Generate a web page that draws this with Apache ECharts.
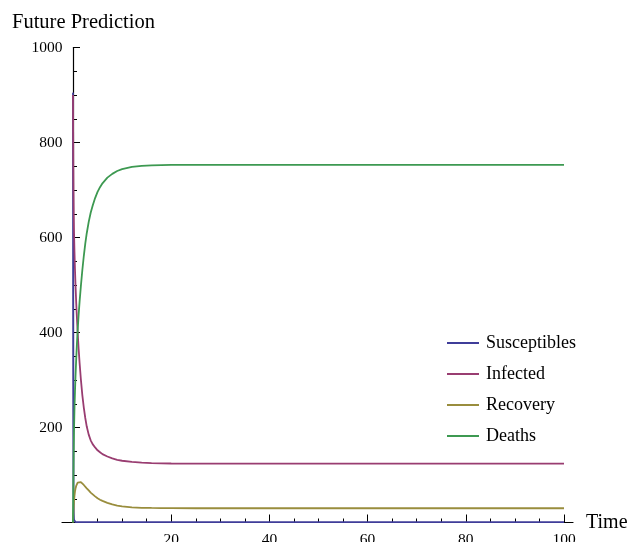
<!DOCTYPE html>
<html>
<head>
<meta charset="utf-8">
<script src="https://cdn.jsdelivr.net/npm/echarts@6/dist/echarts.min.js"></script>
<style>
html,body{margin:0;padding:0;background:#fff;}
#c{width:632px;height:542px;}
</style>
</head>
<body>
<div id="c"></div>
<script>
var seriesNames = ['Susceptibles', 'Infected', 'Recovery', 'Deaths'];
var times = [0, 0.03, 0.06, 0.1, 0.15, 0.2, 0.3, 0.4, 0.5, 0.65, 0.8, 0.95, 1.15, 1.35, 1.6, 1.9, 2.2, 2.5, 2.8, 3.2, 3.6, 4.0, 4.5, 5.0, 5.5, 6, 7, 8, 9, 10, 12, 14, 16, 18, 20, 25, 30, 40, 50, 60, 70, 80, 90, 100];
var susceptibles = [905, 450, 200, 70, 20, 6, 2, 1, 1, 1, 1, 1, 1, 1, 1, 1, 1, 1, 1, 1, 1, 1, 1, 1, 1, 1, 1, 1, 1, 1, 1, 1, 1, 1, 1, 1, 1, 1, 1, 1, 1, 1, 1, 1];
var infected = [900, 820, 760, 700, 650, 615, 570, 533, 503, 463, 430, 400, 365, 335, 302, 268, 242, 220, 202, 185, 173, 165, 158, 152, 148, 144, 139, 135, 132, 130, 127.5, 126, 125, 124.5, 124.2, 124, 124, 124, 124, 124, 124, 124, 124, 124];
var recovery = [0, 8, 16, 25, 35, 44, 56, 65, 71, 77, 81, 84, 85.5, 86, 85, 82.5, 79, 75.5, 72, 67.5, 63, 59, 55, 51, 48, 45.5, 41.5, 38, 35.5, 34, 32, 31, 30.6, 30.3, 30.1, 30, 30, 30, 30, 30, 30, 30, 30, 30];
var deaths = [0, 40, 75, 115, 155, 190, 240, 275, 305, 343, 376, 405, 438, 466, 497, 531, 561, 587, 609, 633, 652, 667, 683, 696, 706, 714, 726, 734, 740, 744, 748.5, 750.7, 751.8, 752.4, 752.8, 753, 753, 753, 753, 753, 753, 753, 753, 753];
var colors = ['#3F3D99', '#993D71', '#998D3D', '#3D9951'];

var valueSets = [susceptibles, infected, recovery, deaths];
var font = 'Liberation Serif';

function pairs(vals) {
  return times.map(function (t, i) { return [t, vals[i]]; });
}

var chart = echarts.init(document.getElementById('c'), null, {renderer: 'canvas'});
var option = {
  backgroundColor: '#ffffff',
  animation: false,
  title: {
    text: 'Future Prediction',
    left: 7, top: 7,
    textStyle: {fontFamily: font, fontSize: 20.5, fontWeight: 'normal', color: '#000'}
  },
  legend: {
    orient: 'vertical',
    left: 447, top: 334,
    padding: 0,
    icon: 'rect',
    itemWidth: 32, itemHeight: 2, itemGap: 13,
    data: seriesNames,
    textStyle: {fontFamily: font, fontSize: 18, color: '#000', lineHeight: 18, padding: [0, 0, 0, 2]}
  },
  grid: [
    {left: 73, right: 68, top: 47.5, bottom: 19.5, containLabel: false, outerBoundsMode: 'none'},
    {left: 62, right: 59, top: 47.5, bottom: 19.5, containLabel: false, outerBoundsMode: 'none'}
  ],
  xAxis: [
    {
      type: 'value', gridIndex: 0, min: 0, max: 100, interval: 20,
      name: 'Time', nameLocation: 'end', nameGap: 22,
      nameTextStyle: {fontFamily: font, fontSize: 20, color: '#000'},
      axisLine: {show: false},
      axisTick: {show: true, inside: true, length: 8, lineStyle: {color: '#000', width: 1}},
      minorTick: {show: true, splitNumber: 4, length: 4, lineStyle: {color: '#000', width: 1}},
      splitLine: {show: false},
      axisLabel: {
        fontFamily: font, fontSize: 15.5, color: '#000', margin: 9,
        formatter: function (v) { return v === 0 ? '' : String(v); }
      }
    },
    {
      type: 'value', gridIndex: 1, min: 0, max: 1,
      axisLine: {show: true, lineStyle: {color: '#000', width: 1.2}},
      axisTick: {show: false}, axisLabel: {show: false}, splitLine: {show: false}
    }
  ],
  yAxis: [
    {
      type: 'value', gridIndex: 0, min: 0, max: 1000, interval: 200,
      axisLine: {show: true, onZero: false, lineStyle: {color: '#000', width: 1.2}},
      axisTick: {show: true, inside: true, length: 7, lineStyle: {color: '#000', width: 1}},
      minorTick: {show: true, splitNumber: 4, length: 4, lineStyle: {color: '#000', width: 1}},
      splitLine: {show: false},
      axisLabel: {
        fontFamily: font, fontSize: 15.5, color: '#000', margin: 10.5,
        formatter: function (v) { return v === 0 ? '' : String(v); }
      }
    },
    {
      type: 'value', gridIndex: 1, min: 0, max: 1, show: false
    }
  ],
  series: seriesNames.map(function (name, k) {
    return {
      name: name,
      type: 'line',
      xAxisIndex: 0, yAxisIndex: 0,
      data: pairs(valueSets[k]),
      symbol: 'none',
      smooth: false,
      color: colors[k],
      itemStyle: {color: colors[k]},
      lineStyle: {color: colors[k], width: 1.8},
      z: 3 + k
    };
  })
};
chart.setOption(option);
</script>
</body>
</html>
